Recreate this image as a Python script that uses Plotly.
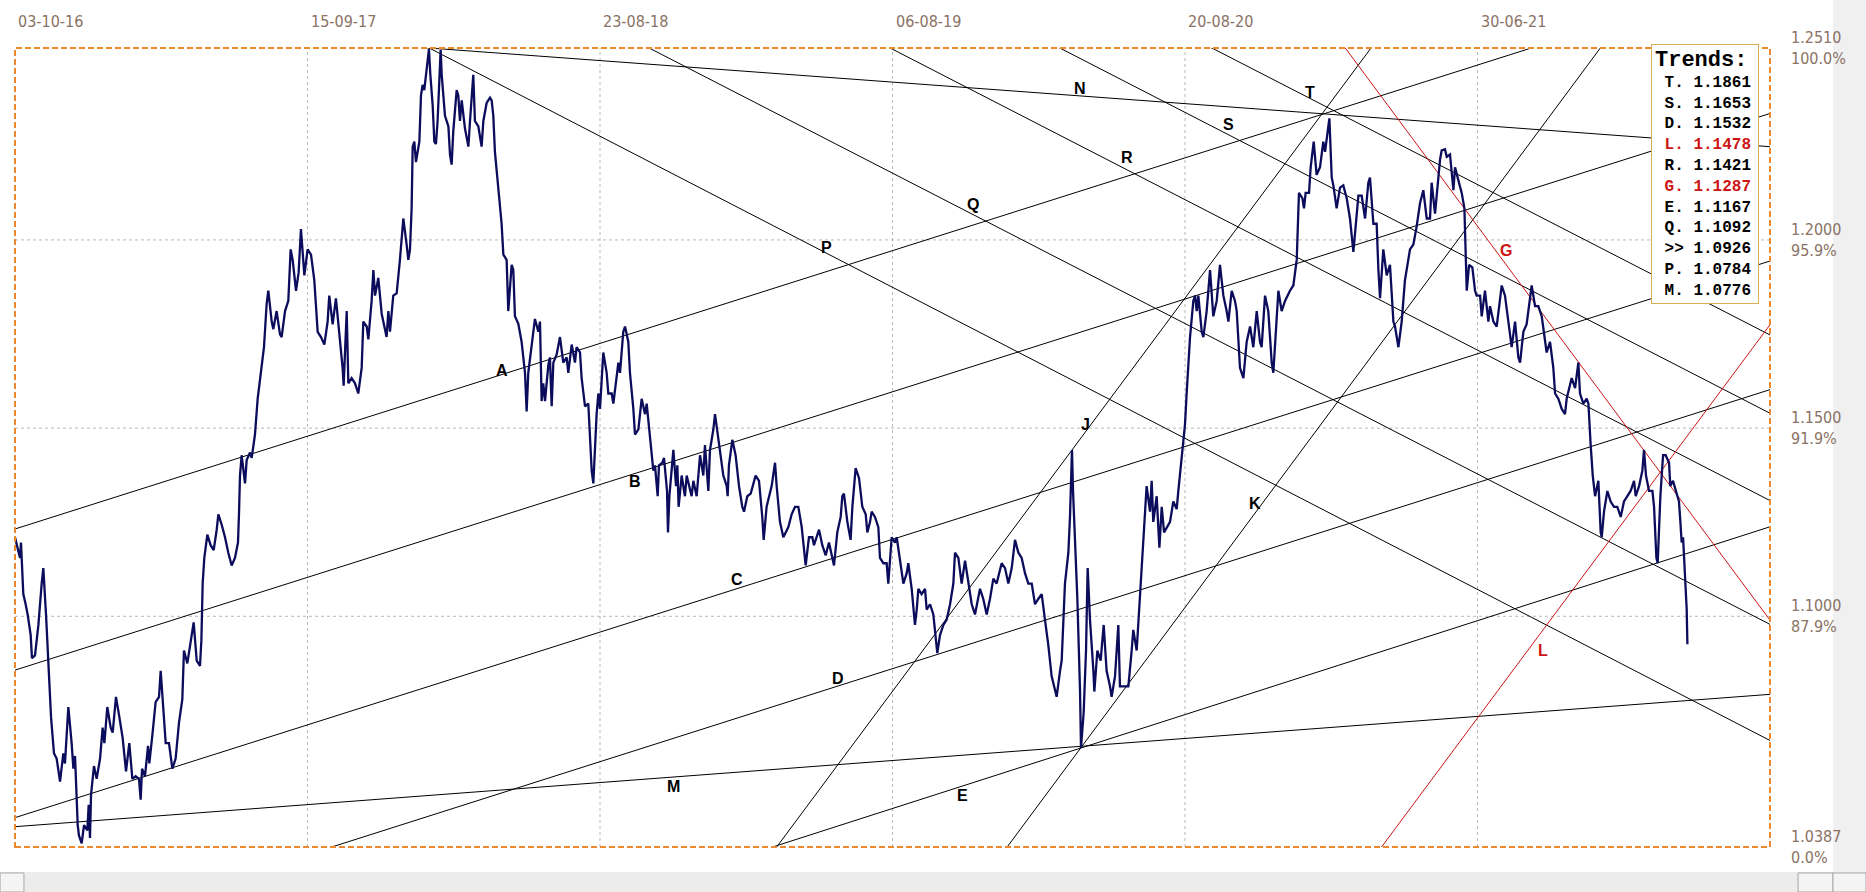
import plotly.graph_objects as go

# ---------------- data ----------------
dates = ["03-10-16", "15-09-17", "23-08-18", "06-08-19", "20-08-20", "30-06-21"]
date_bars = [0, 250, 500, 750, 1000, 1250]
x_range = [0, 1500]
y_range = [1.0387, 1.2510]
price_ticks = [1.2510, 1.2000, 1.1500, 1.1000, 1.0387]
pct_ticks = ["100.0%", "95.9%", "91.9%", "87.9%", "0.0%"]
grid_prices = [1.2000, 1.1500, 1.1000]

bar_idx = [
    0.0, 4.3, 5.1, 7.1, 9.1, 10.8, 13.4, 14.5, 17.1, 20.0, 22.8, 24.2, 26.5, 28.5, 30.8, 33.3, 35.6, 38.5,
    41.3, 42.7, 45.6, 48.4, 49.9, 51.3, 53.6, 54.7, 57.0, 59.0, 61.8, 63.0, 64.1, 65.0, 67.5, 69.8, 72.7,
    74.9, 76.4, 78.9, 81.8, 83.5, 86.3, 89.2, 92.0, 94.9, 97.7, 100.3, 103.1, 106.0, 107.4, 108.6, 111.1,
    113.7, 114.8, 117.4, 120.2, 123.1, 124.5, 125.9, 128.8, 131.6, 134.5, 137.3, 140.2, 143.0, 144.4,
    147.3, 151.6, 152.7, 155.3, 158.1, 159.3, 160.4, 161.8, 164.4, 167.2, 169.8, 172.4, 173.8, 176.6,
    179.5, 182.3, 185.2, 188.0, 190.6, 191.5, 192.3, 193.7, 196.6, 198.0, 200.9, 202.3, 205.1, 207.4,
    210.0, 212.8, 215.1, 216.5, 219.4, 220.8, 223.6, 226.5, 227.9, 230.8, 233.6, 235.6, 237.3, 240.2,
    242.4, 243.6,
    244.4, 247.3, 250.1, 253.0, 255.8, 258.7, 261.5, 264.4, 267.2, 268.6, 271.5, 274.3, 277.2, 280.0,
    280.9, 283.5, 284.9, 287.7, 290.6, 293.4, 296.3, 297.7, 300.6, 302.0, 304.8, 306.3, 307.7, 310.5,
    313.4, 317.6, 319.1, 320.5, 323.3, 326.2, 329.0, 331.9, 334.7, 336.2, 337.6, 339.0, 339.9, 341.3,
    342.7, 345.6, 347.0, 348.4, 349.8, 352.7, 353.8, 355.0, 357.0, 358.4, 359.8, 361.2, 362.7, 363.8,
    364.7, 367.5, 370.4, 371.8, 373.2, 374.6, 377.5, 378.9, 380.3, 381.8, 384.6, 387.5, 388.9, 391.7,
    393.1, 396.0, 398.8, 400.3, 403.1, 406.0, 407.4, 408.8, 410.2, 413.1, 415.9, 417.4, 420.2, 421.6,
    424.5, 425.9, 427.3, 430.2, 433.0, 435.9, 437.3, 438.7, 441.6, 444.4, 447.3, 448.7, 450.1, 451.5,
    453.0, 455.8, 457.2, 458.7, 460.1, 462.9, 465.8, 468.6, 471.5, 472.9, 475.8, 478.6, 480.0, 482.9,
    484.3, 487.2,
    490.0, 492.9, 494.3, 497.1, 498.6, 500.0, 502.8, 505.7, 507.1, 510.0, 511.4, 515.7, 517.1, 519.9,
    521.4, 524.2, 525.6, 528.5, 529.9, 532.8, 535.6, 538.5, 539.9, 542.7, 545.6, 547.0, 549.3, 550.4,
    553.3, 554.7, 557.3, 558.1, 559.3, 562.7, 565.0, 566.1, 567.2, 569.8, 572.6, 574.1, 578.3, 579.8,
    582.6, 585.5, 588.3, 589.7, 592.6, 594.0, 596.9, 598.3, 599.7, 602.6, 605.4, 608.3, 609.1, 610.2,
    613.1, 615.9, 618.8, 621.6, 623.1, 625.9, 628.8, 633.0, 635.9, 638.7, 639.9, 642.4, 646.7, 649.6,
    651.0, 653.8, 656.7, 661.0, 663.8, 666.7, 669.5, 672.4, 674.6, 675.8, 678.6, 681.5, 682.9, 687.2,
    690.0, 692.9, 695.7, 698.6, 700.0, 702.8, 705.7, 707.1, 708.5, 711.4, 714.2, 715.7, 718.5, 721.4,
    724.2, 727.1, 728.5, 730.8,
    732.2, 735.0, 737.9, 739.3, 742.2, 745.0, 746.4, 749.3, 752.1, 753.6, 756.4, 759.3, 762.1, 763.5,
    766.4, 769.2, 770.7, 772.1, 774.9, 777.8, 779.2, 782.1, 784.9, 787.2, 788.3, 790.6, 793.5, 796.3,
    799.2, 802.0, 803.4, 806.3, 809.1, 812.0, 814.8, 817.7, 820.5, 824.8, 827.6, 830.5, 833.3, 836.2,
    839.0, 843.3, 846.2, 849.0, 851.9, 854.7, 857.6, 860.4, 863.3, 866.1, 869.0, 871.8, 874.6, 877.5,
    880.3, 883.2, 886.0, 888.9, 890.3, 893.2, 894.6, 897.4, 900.3, 901.7, 903.4, 904.3, 906.0, 908.0,
    910.3, 911.1, 913.4, 915.4, 916.8, 918.8, 921.7, 922.5, 925.1, 927.9, 930.5, 933.0, 935.9, 937.3,
    940.2, 943.0, 944.4, 947.3, 951.6, 954.4, 955.8, 958.7, 961.5, 964.4, 967.2, 970.1, 971.5,
    972.9, 975.8, 978.1, 980.1, 982.1, 984.3, 987.2, 990.0, 992.9, 994.3, 997.2, 1000.0, 1001.4, 1002.9,
    1004.3, 1007.1, 1008.6, 1010.0, 1011.4, 1014.3, 1015.7, 1018.5, 1021.4, 1024.2, 1027.1, 1029.9,
    1032.8, 1035.6, 1037.1, 1039.9, 1042.7, 1044.2, 1047.0, 1049.9, 1052.7, 1055.6, 1058.4, 1061.3,
    1064.1, 1065.5, 1068.4, 1071.2, 1074.1, 1075.5, 1078.4, 1079.8, 1082.6, 1085.5, 1089.7, 1092.6,
    1095.5, 1096.3, 1097.4, 1100.3, 1101.7, 1103.1, 1106.0, 1107.4, 1110.0, 1112.5, 1115.4, 1118.2,
    1119.7, 1123.4, 1125.4, 1126.8, 1129.6, 1132.5, 1135.3, 1138.2, 1141.0, 1143.9, 1145.3, 1148.2,
    1151.0, 1153.9, 1156.7, 1158.1, 1161.0, 1163.8, 1165.3, 1166.7, 1169.5, 1172.4, 1175.2, 1178.1,
    1179.5, 1182.4, 1185.2, 1188.0, 1192.3, 1195.2, 1198.0, 1200.9, 1203.7, 1206.6, 1209.4, 1210.8,
    1213.7, 1216.5, 1218.0,
    1219.4, 1222.2, 1223.7, 1226.5, 1229.4, 1230.8, 1233.6, 1236.5, 1238.8, 1239.9, 1240.8, 1242.8,
    1245.6, 1247.9, 1249.3, 1252.2, 1253.6, 1256.4, 1259.3, 1260.7, 1263.6, 1266.4, 1269.3, 1270.7,
    1273.5, 1276.4, 1279.2, 1282.1, 1284.9, 1286.4, 1289.2, 1292.0, 1294.9, 1296.3, 1299.2, 1302.0,
    1304.9, 1307.7, 1309.1, 1312.0, 1314.8, 1316.3, 1319.1, 1322.0, 1324.8, 1326.2, 1330.5, 1333.4,
    1336.2, 1337.6, 1340.5, 1343.3, 1344.8, 1346.7, 1348.5, 1350.5, 1353.3, 1355.3, 1356.2, 1358.1,
    1361.0, 1363.8, 1366.7, 1369.5, 1372.4, 1375.2, 1378.1, 1380.9, 1383.8, 1385.2, 1388.1, 1390.9,
    1392.3, 1394.0, 1396.6, 1399.5, 1400.9, 1402.9, 1404.0, 1406.3, 1408.6, 1410.8, 1413.7, 1414.8,
    1417.1, 1419.4, 1422.2, 1423.4, 1424.5, 1425.7, 1427.4, 1428.8, 1429.4,
]

close = [
    1.1210, 1.1155, 1.1196, 1.1059, 1.1032, 1.1005, 1.0950, 1.0889, 1.0896, 1.0977, 1.1087, 1.1128, 1.1005,
    1.0882, 1.0732, 1.0636, 1.0622, 1.0561, 1.0636, 1.0609, 1.0759, 1.0663, 1.0595, 1.0629, 1.0445, 1.0417,
    1.0397, 1.0445, 1.0431, 1.0499, 1.0411, 1.0527, 1.0602, 1.0568, 1.0622, 1.0704, 1.0663, 1.0759, 1.0704,
    1.0691, 1.0786, 1.0732, 1.0677, 1.0588, 1.0663, 1.0568, 1.0575, 1.0568, 1.0513, 1.0595, 1.0575, 1.0656,
    1.0609, 1.0684, 1.0772, 1.0786, 1.0855, 1.0793, 1.0663, 1.0663, 1.0595, 1.0622, 1.0718, 1.0779, 1.0909,
    1.0875, 1.0964, 1.0984, 1.0882, 1.0868, 1.0936, 1.1087, 1.1155, 1.1217, 1.1189, 1.1176, 1.1230, 1.1271,
    1.1244, 1.1210, 1.1169, 1.1135, 1.1155, 1.1196, 1.1278, 1.1374, 1.1428, 1.1353, 1.1415, 1.1435, 1.1421,
    1.1483, 1.1578, 1.1647, 1.1715, 1.1831, 1.1865, 1.1783, 1.1763, 1.1811, 1.1749, 1.1742, 1.1811, 1.1838,
    1.1975, 1.1947, 1.1865, 1.1913, 1.2002,
    1.2029, 1.1906, 1.1975, 1.1961, 1.1893, 1.1756, 1.1742, 1.1722, 1.1783, 1.1852, 1.1776, 1.1845, 1.1756,
    1.1660, 1.1613, 1.1811, 1.1619, 1.1633, 1.1619, 1.1592, 1.1660, 1.1783, 1.1770, 1.1736, 1.1838, 1.1920,
    1.1852, 1.1899, 1.1804, 1.1742, 1.1811, 1.1756, 1.1852, 1.1858, 1.1947, 1.2057, 1.1988, 1.1947, 1.1975,
    1.2084, 1.2248, 1.2261, 1.2207, 1.2261, 1.2384, 1.2412, 1.2398, 1.2487, 1.2507, 1.2439, 1.2357, 1.2261,
    1.2255, 1.2316, 1.2453, 1.2505, 1.2439, 1.2330, 1.2302, 1.2227, 1.2200, 1.2289, 1.2398, 1.2384, 1.2316,
    1.2371, 1.2296, 1.2248, 1.2316, 1.2439, 1.2316, 1.2302, 1.2248, 1.2316, 1.2364, 1.2378, 1.2371, 1.2330,
    1.2234, 1.2125, 1.2043, 1.1961, 1.1947, 1.1811, 1.1934, 1.1920, 1.1797, 1.1777, 1.1729, 1.1647, 1.1544,
    1.1647, 1.1715, 1.1790, 1.1756, 1.1783, 1.1572, 1.1619, 1.1572, 1.1667, 1.1688, 1.1558, 1.1674, 1.1695,
    1.1742, 1.1674, 1.1688, 1.1647, 1.1722, 1.1674, 1.1715, 1.1701, 1.1633, 1.1558,
    1.1565, 1.1387, 1.1353, 1.1537, 1.1592, 1.1551, 1.1701, 1.1647, 1.1592, 1.1592, 1.1565, 1.1674, 1.1647,
    1.1756, 1.1770, 1.1729, 1.1647, 1.1551, 1.1483, 1.1497, 1.1578, 1.1537, 1.1565, 1.1469, 1.1387, 1.1401,
    1.1319, 1.1401, 1.1408, 1.1421, 1.1333, 1.1223, 1.1319, 1.1442, 1.1346, 1.1401, 1.1291, 1.1374, 1.1319,
    1.1374, 1.1319, 1.1360, 1.1319, 1.1428, 1.1374, 1.1455, 1.1333, 1.1442, 1.1497, 1.1537, 1.1503, 1.1442,
    1.1374, 1.1346, 1.1319, 1.1401, 1.1469, 1.1428, 1.1346, 1.1291, 1.1278, 1.1319, 1.1326, 1.1374, 1.1360,
    1.1264, 1.1203, 1.1291, 1.1346, 1.1408, 1.1346, 1.1251, 1.1210, 1.1237, 1.1271, 1.1291, 1.1291, 1.1237,
    1.1169, 1.1135, 1.1210, 1.1210, 1.1189, 1.1230, 1.1189, 1.1162, 1.1196, 1.1155, 1.1135, 1.1223, 1.1264,
    1.1319, 1.1326, 1.1251, 1.1203, 1.1291, 1.1394, 1.1367, 1.1291, 1.1271, 1.1223, 1.1251,
    1.1278, 1.1264, 1.1237, 1.1155, 1.1141, 1.1141, 1.1087, 1.1210, 1.1196, 1.1210, 1.1155, 1.1087, 1.1114,
    1.1141, 1.1073, 1.0977, 1.1018, 1.1073, 1.1059, 1.1073, 1.1018, 1.1032, 1.1005, 1.0923, 1.0902, 1.0950,
    1.0977, 1.0991, 1.1032, 1.1087, 1.1169, 1.1155, 1.1087, 1.1148, 1.1087, 1.1032, 1.1005, 1.1073, 1.1046,
    1.1005, 1.1046, 1.1100, 1.1087, 1.1141, 1.1128, 1.1087, 1.1128, 1.1203, 1.1169, 1.1155, 1.1114, 1.1087,
    1.1087, 1.1032, 1.1046, 1.1059, 1.0991, 1.0923, 1.0841, 1.0800, 1.0786, 1.0855, 1.0882, 1.1087, 1.1169,
    1.1264, 1.1442, 1.1333, 1.1210, 1.1046, 1.0800, 1.0650, 1.0745, 1.0909, 1.1128, 1.0991, 1.0855, 1.0800,
    1.0909, 1.0882, 1.0977, 1.0855, 1.0814, 1.0786, 1.0841, 1.0977, 1.0814, 1.0814, 1.0814, 1.0909, 1.0964,
    1.0909, 1.1046, 1.1182, 1.1346, 1.1278, 1.1360,
    1.1251, 1.1319, 1.1182, 1.1291, 1.1223, 1.1237, 1.1251, 1.1305, 1.1285, 1.1333, 1.1428, 1.1510, 1.1592,
    1.1674, 1.1742, 1.1838, 1.1852, 1.1811, 1.1852, 1.1756, 1.1742, 1.1811, 1.1920, 1.1797, 1.1838, 1.1934,
    1.1852, 1.1811, 1.1783, 1.1865, 1.1838, 1.1811, 1.1660, 1.1633, 1.1729, 1.1770, 1.1715, 1.1811, 1.1729,
    1.1715, 1.1852, 1.1811, 1.1674, 1.1647, 1.1811, 1.1865, 1.1811, 1.1838, 1.1865, 1.1879, 1.1947, 1.2043,
    1.2125, 1.2111, 1.2084, 1.2125, 1.2125, 1.2193, 1.2261, 1.2173, 1.2193, 1.2261, 1.2234, 1.2323, 1.2166,
    1.2145, 1.2084, 1.2139, 1.2145, 1.2111, 1.2057, 1.1968, 1.2016, 1.2118, 1.2118, 1.2057, 1.2152, 1.2166,
    1.2043, 1.2043, 1.1920, 1.1845, 1.1975, 1.1906, 1.1934, 1.1783, 1.1770, 1.1715, 1.1783, 1.1893, 1.1975,
    1.1988, 1.2036, 1.2098, 1.2132, 1.2057, 1.2057, 1.2152, 1.2070, 1.2180, 1.2214,
    1.2238, 1.2241, 1.2221, 1.2227, 1.2132, 1.2193, 1.2159, 1.2125, 1.2084, 1.1975, 1.1865, 1.1934, 1.1927,
    1.1865, 1.1852, 1.1852, 1.1797, 1.1865, 1.1783, 1.1824, 1.1783, 1.1770, 1.1852, 1.1879, 1.1852, 1.1783,
    1.1715, 1.1783, 1.1688, 1.1674, 1.1756, 1.1776, 1.1838, 1.1879, 1.1824, 1.1824, 1.1797, 1.1729, 1.1701,
    1.1729, 1.1660, 1.1592, 1.1578, 1.1551, 1.1537, 1.1578, 1.1633, 1.1606, 1.1674, 1.1592, 1.1565, 1.1578,
    1.1565, 1.1456, 1.1374, 1.1319, 1.1360, 1.1223, 1.1210, 1.1278, 1.1333, 1.1305, 1.1291, 1.1291, 1.1264,
    1.1305, 1.1319, 1.1333, 1.1360, 1.1319, 1.1346, 1.1387, 1.1442, 1.1374, 1.1333, 1.1333, 1.1291, 1.1155,
    1.1141, 1.1319, 1.1428, 1.1428, 1.1408, 1.1346, 1.1360, 1.1333, 1.1305, 1.1251, 1.1196, 1.1210, 1.1114,
    1.1018, 1.0926,
]

# trend lines: two anchor points each (bar, price)
trend_names = ["A", "B", "C", "D", "E", "M", "N", "P", "Q", "R", "S", "T", "J", "K", "L", "G"]
trend_x1 = [0, 0, 0, 270.7, 911, 0, 354, 354, 542, 748, 893, 1023, 651, 848, 1168, 1137]
trend_y1 = [1.1232, 1.0857, 1.0465, 1.0387, 1.0650, 1.0441, 1.2510, 1.2510, 1.2510, 1.2510, 1.2510,
            1.2510, 1.0387, 1.0387, 1.0387, 1.2510]
trend_x2 = [1296, 1429, 1429, 1429, 1429, 1429, 1429, 1429, 1429, 1429, 1429, 1429, 1159, 1355, 1429, 1429]
trend_y2 = [1.2510, 1.2266, 1.1874, 1.1532, 1.1167, 1.0776, 1.2264, 1.0784, 1.1092, 1.1421, 1.1653,
            1.1861, 1.2510, 1.2510, 1.1478, 1.1287]
red_trends = ["L", "G"]

# line label positions (bar, price)
label_x = [416, 530, 617, 703, 810, 563, 910, 694, 819, 950, 1037, 1107, 915, 1060, 1306, 1274]
label_y = [1.1653, 1.1357, 1.1098, 1.0836, 1.0524, 1.0548, 1.2402, 1.1981, 1.2095, 1.2218, 1.2307,
           1.2392, 1.1509, 1.1301, 1.0909, 1.1972]

legend_names = ["T.", "S.", "D.", "L.", "R.", "G.", "E.", "Q.", "&gt;&gt;", "P.", "M."]
legend_values = [1.1861, 1.1653, 1.1532, 1.1478, 1.1421, 1.1287, 1.1167, 1.1092, 1.0926, 1.0784, 1.0776]
legend_red = ["L.", "G."]

# ---------------- styles ----------------
NAVY = "#0c0c5c"
RED = "#cc1414"
AXIS_TXT = "#8a7264"
NARROW = "Liberation Sans Narrow, Arial Narrow, DejaVu Sans Condensed, sans-serif"
MONO = "Liberation Mono, Courier New, monospace"

fig = go.Figure()

# trend lines, extended across the whole plot and clipped by it
ext_lo, ext_hi = -200, 1700
for nm, x1, y1, x2, y2 in zip(trend_names, trend_x1, trend_y1, trend_x2, trend_y2):
    slope = (y2 - y1) / (x2 - x1)
    xs = [ext_lo, ext_hi]
    ys = [y1 + (ext_lo - x1) * slope, y1 + (ext_hi - x1) * slope]
    fig.add_trace(go.Scatter(
        x=xs, y=ys, mode="lines",
        line=dict(color=RED if nm in red_trends else "#000000", width=1),
        hoverinfo="skip", showlegend=False,
    ))

# price series
fig.add_trace(go.Scatter(
    x=bar_idx, y=close, mode="lines",
    line=dict(color=NAVY, width=2.3),
    showlegend=False,
))

# labels of trend lines
for nm, lx, ly in zip(trend_names, label_x, label_y):
    fig.add_annotation(
        x=lx, y=ly, text=f"<b>{nm}</b>", showarrow=False,
        font=dict(family="Liberation Sans, Arial, sans-serif", size=16,
                  color=RED if nm in red_trends else "#000000"),
    )

shapes = []
# grid lines
for b in date_bars[1:]:
    shapes.append(dict(type="line", xref="x", yref="paper", x0=b, x1=b, y0=0, y1=1,
                       line=dict(color="#b8b8b8", width=1, dash="dot"), layer="below"))
for p in grid_prices:
    shapes.append(dict(type="line", xref="paper", yref="y", x0=0, x1=1, y0=p, y1=p,
                       line=dict(color="#b8b8b8", width=1, dash="dot"), layer="below"))
# dashed orange frame
shapes.append(dict(type="rect", xref="paper", yref="paper", x0=0, x1=1, y0=0, y1=1,
                   line=dict(color="#ec8a2c", width=2, dash="6px,3px"), layer="above"))
# window chrome: right and bottom scrollbar strips
shapes.append(dict(type="rect", xref="paper", yref="paper", x0=1.0359, x1=1.06, y0=-0.0313, y1=1.07,
                   fillcolor="#f0f0f0", line=dict(width=0), layer="below"))
shapes.append(dict(type="rect", xref="paper", yref="paper", x0=-0.01, x1=1.06, y0=-0.07, y1=-0.0313,
                   fillcolor="#ececec", line=dict(width=0), layer="below"))
shapes.append(dict(type="rect", xref="paper", yref="paper", x0=-0.0085, x1=0.0051, y0=-0.0563, y1=-0.0325,
                   fillcolor="#f4f4f4", line=dict(color="#a8a8a8", width=1), layer="below"))
shapes.append(dict(type="rect", xref="paper", yref="paper", x0=1.0160, x1=1.0359, y0=-0.0563, y1=-0.0325,
                   fillcolor="#f4f4f4", line=dict(color="#a8a8a8", width=1), layer="below"))
shapes.append(dict(type="rect", xref="paper", yref="paper", x0=1.0359, x1=1.0547, y0=-0.0563, y1=-0.0325,
                   fillcolor="#f4f4f4", line=dict(color="#a8a8a8", width=1), layer="below"))

# date labels along the top, left-aligned on their grid lines
for b, d in zip(date_bars, dates):
    fig.add_annotation(x=b, y=1, xref="x", yref="paper", text=d, showarrow=False,
                       xanchor="left", yanchor="middle", xshift=1, yshift=27,
                       font=dict(family=NARROW, size=16, color=AXIS_TXT))

# trends box
rows = ["<span style='font-size:22px'><b>Trends:</b></span>"]
for nm, v in zip(legend_names, legend_values):
    col = RED if nm in legend_red else "#000000"
    rows.append(f"<span style='color:{col}'><b>\u00a0{nm}\u00a0{v:.4f}</b></span>")
fig.add_annotation(
    x=0.9322, y=1.0056, xref="paper", yref="paper", xanchor="left", yanchor="top",
    text="<br>".join(rows), showarrow=False, align="left",
    font=dict(family=MONO, size=16, color="#000000"),
    bgcolor="#ffffff", bordercolor="#d8ac58", borderwidth=1, borderpad=3, width=100,
)

fig.update_layout(
    width=1866, height=892,
    margin=dict(l=15, r=96, t=48, b=45),
    paper_bgcolor="#ffffff", plot_bgcolor="#ffffff",
    showlegend=False,
    shapes=shapes,
    xaxis=dict(range=x_range, showgrid=False, zeroline=False, showline=False,
               showticklabels=False, ticks=""),
    yaxis=dict(range=y_range, side="right", showgrid=False, zeroline=False, showline=False,
               tickvals=price_ticks,
               ticktext=[f"{p:.4f}<br>{q}" for p, q in zip(price_ticks, pct_ticks)],
               ticks="", ticklabelstandoff=20,
               tickfont=dict(family=NARROW, size=16, color=AXIS_TXT)),
    hovermode=False,
)

fig.write_html("out.html", config={"displayModeBar": False},
               post_script="document.body.style.margin='0px';document.body.style.overflow='hidden';")
